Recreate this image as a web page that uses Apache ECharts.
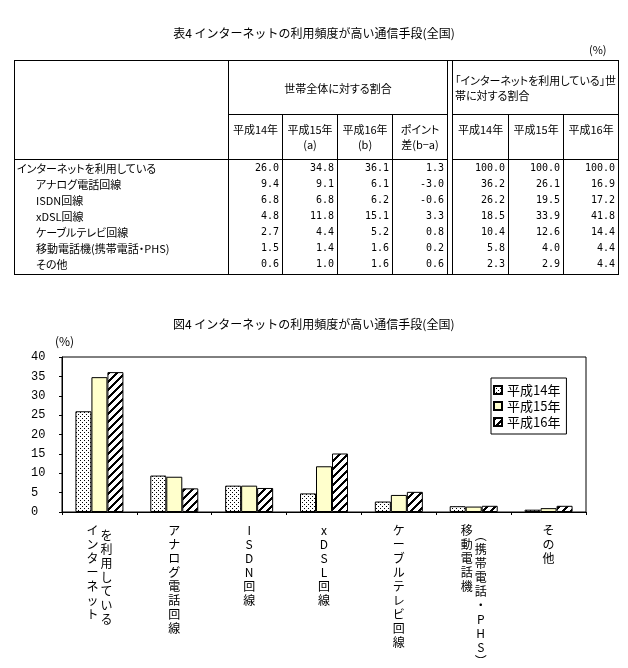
<!DOCTYPE html>
<html><head><meta charset="utf-8">
<script src="https://cdn.jsdelivr.net/npm/echarts@6/dist/echarts.min.js"></script>
<style>
html,body{margin:0;padding:0;background:#fff;}
body{width:628px;height:668px;position:relative;overflow:hidden;font-family:'Noto Sans CJK JP',sans-serif;color:#000;}
#chart{position:absolute;left:0;top:0;width:628px;height:668px;}
#ttl{position:absolute;left:0;width:628px;top:24px;text-align:center;font-size:12px;line-height:18px;z-index:2;}
#unit{position:absolute;left:589px;top:42px;font-size:11px;line-height:14px;z-index:2;}
#tbl{position:absolute;left:14px;top:60px;border-collapse:collapse;table-layout:fixed;width:604px;font-size:11px;z-index:2;border:1px solid #000;font-feature-settings:"palt";}
#tbl td{border-left:1px solid #000;border-right:1px solid #000;padding:0;overflow:hidden;white-space:nowrap;}
#tbl td.hb{border-bottom:1px solid #000;}
#tbl td.h1{text-align:center;vertical-align:middle;}
#tbl td.h2{text-align:left;vertical-align:middle;white-space:normal;line-height:15px;padding-left:2px;}
#tbl td.sh{text-align:center;vertical-align:top;padding-top:7px;line-height:15px;}
#tbl td.lab{padding-left:2px;line-height:16px;}
#tbl td.lab.ind{padding-left:21px;}
#tbl td.num{text-align:right;padding-right:3px;font-family:'DejaVu Sans Mono',monospace;font-size:10px;line-height:16px;}
</style></head>
<body>
<div id="chart"></div>
<div id="ttl"></div>
<div id="unit">(%)</div>
<table id="tbl">
<colgroup><col style="width:214px"><col style="width:54px"><col style="width:55px"><col style="width:55px"><col style="width:55px"><col style="width:5px"><col style="width:56px"><col style="width:55px"><col style="width:55px"></colgroup>
<tbody id="tb"></tbody>
</table>
<script>
// ---- data ----
const tableTitle = '表4 インターネットの利用頻度が高い通信手段(全国)';
const chartTitle = '図4 インターネットの利用頻度が高い通信手段(全国)';
const categories = ['インターネットを利用している','アナログ電話回線','ISDN回線','xDSL回線','ケーブルテレビ回線','移動電話機(携帯電話・PHS)','その他'];
const indentRows = [false,true,true,true,true,true,true];
const years = ['平成14年','平成15年','平成16年'];
const groupAll = '世帯全体に対する割合';
const groupUsers = '「インターネットを利用している」世帯に対する割合';
const subHeadAll = ['平成14年','平成15年<br>(a)','平成16年<br>(b)','ポイント<br>差(b−a)'];
const subHeadUsers = ['平成14年','平成15年','平成16年'];
const h14 = [26.0, 9.4, 6.8, 4.8, 2.7, 1.5, 0.6];
const h15 = [34.8, 9.1, 6.8, 11.8, 4.4, 1.4, 1.0];
const h16 = [36.1, 6.1, 6.2, 15.1, 5.2, 1.6, 1.6];
const pointDiff = [1.3, -3.0, -0.6, 3.3, 0.8, 0.2, 0.6];
const users14 = [100.0, 36.2, 26.2, 18.5, 10.4, 5.8, 2.3];
const users15 = [100.0, 26.1, 19.5, 33.9, 12.6, 4.0, 2.9];
const users16 = [100.0, 16.9, 17.2, 41.8, 14.4, 4.4, 4.4];
// chart tick labels (stacked vertically, two columns where wrapped)
const tickMain = ['インターネット','アナログ電話回線','ISDN回線','xDSL回線','ケーブルテレビ回線','移動電話機','その他'];
const tickSub  = ['を利用している','','','','','︵携帯電話・PHS︶',''];
const yTicks = {min:0, max:40, interval:5};

// ---- table ----
document.getElementById('ttl').textContent = tableTitle;
const tb = document.getElementById('tb');
let html = '';
html += '<tr style="height:54px"><td rowspan="2" class="hb"></td><td colspan="4" class="h1 hb">'+groupAll+'</td>'
      + '<td rowspan="'+(2+categories.length)+'"></td><td colspan="3" class="h2 hb">'+groupUsers+'</td></tr>';
html += '<tr style="height:45px">' + subHeadAll.map(s=>'<td class="sh hb">'+s+'</td>').join('')
      + subHeadUsers.map(s=>'<td class="sh hb">'+s+'</td>').join('') + '</tr>';
const f = v => v.toFixed(1);
categories.forEach((c,i)=>{
  const h = (i===categories.length-1)?18:16;
  html += '<tr style="height:'+h+'px;vertical-align:top"><td class="lab'+(indentRows[i]?' ind':'')+'">'+c+'</td>'
    + [h14[i],h15[i],h16[i],pointDiff[i]].map(v=>'<td class="num">'+f(v)+'</td>').join('')
    + [users14[i],users15[i],users16[i]].map(v=>'<td class="num">'+f(v)+'</td>').join('') + '</tr>';
});
tb.innerHTML = html;

// ---- patterns ----
function makeStipple(){const c=document.createElement('canvas');c.width=4;c.height=4;const x=c.getContext('2d');x.fillStyle='#fff';x.fillRect(0,0,4,4);x.fillStyle='#000';x.fillRect(0,0,1,1);x.fillRect(2,2,1,1);return c;}
function makeHatch(){const c=document.createElement('canvas');c.width=8;c.height=8;const x=c.getContext('2d');x.fillStyle='#fff';x.fillRect(0,0,8,8);x.fillStyle='#000';for(let i=0;i<8;i++)for(let j=0;j<8;j++){if(((i+j)%8)<3)x.fillRect(i,j,1,1);}return c;}
const fills = [{image:makeStipple(),repeat:'repeat'}, '#FFFFCC', {image:makeHatch(),repeat:'repeat'}];
const seriesData = [h14,h15,h16];

const stack = s => s.split('').join('\n');
const jp = "'Noto Sans CJK JP', sans-serif";
const chart = echarts.init(document.getElementById('chart'), null, {renderer:'canvas'});
chart.setOption({
  animation:false,
  textStyle:{fontFamily:jp, color:'#000'},
  title:{text:chartTitle, left:173, top:318, padding:0, textStyle:{fontSize:12, fontWeight:'normal', color:'#000', fontFamily:jp}},
  legend:{data:years, orient:'vertical', left:491, top:378, itemWidth:8, itemHeight:8, itemGap:2, selectedMode:false,
    borderColor:'#000', borderWidth:1, backgroundColor:'#fff', padding:[5,6,5,2], icon:'rect',
    textStyle:{fontSize:13, lineHeight:14, color:'#000', fontFamily:jp}},
  grid:{left:62, right:42, top:357, bottom:147, show:true, borderColor:'#000', borderWidth:1, containLabel:false},
  xAxis:[
    {type:'category', data:categories, axisLine:{lineStyle:{color:'#000', width:1}},
     axisTick:{show:true, length:3, alignWithLabel:false, lineStyle:{color:'#000'}},
     axisLabel:{interval:0, margin:11, color:'#000', fontSize:12, lineHeight:14, fontFamily:jp,
       formatter:(v,i)=> tickSub[i] ? '{l|'+stack(tickMain[i])+'}' : stack(tickMain[i]),
       rich:{l:{fontSize:12, lineHeight:14, padding:[0,14,0,0], fontFamily:jp, color:'#000'}}}},
    {type:'category', data:categories, position:'bottom', axisLine:{show:false}, axisTick:{show:false},
     axisLabel:{interval:0, margin:16, color:'#000', fontSize:12, lineHeight:14, fontFamily:jp,
       formatter:(v,i)=> tickSub[i] ? '{r|'+stack(tickSub[i])+'}' : '',
       rich:{r:{fontSize:12, lineHeight:14, padding:[0,0,0,14], fontFamily:jp, color:'#000'}}}}
  ],
  yAxis:{type:'value', min:yTicks.min, max:yTicks.max, interval:yTicks.interval,
    axisLine:{show:true, lineStyle:{color:'#000'}}, axisTick:{show:true, length:3, lineStyle:{color:'#000'}},
    splitLine:{show:false},
    axisLabel:{align:'left', margin:31, color:'#000', fontSize:12, fontFamily:"'Liberation Mono', monospace"},
    name:'(%)', nameLocation:'end', nameGap:10, nameTextStyle:{align:'center', fontSize:12, color:'#000', padding:[0,0,0,5], fontFamily:jp}},
  series: years.map((y,k)=>({name:y, type:'bar', xAxisIndex:0, data:seriesData[k], barWidth:16, barGap:'0%',
    itemStyle:{color:fills[k], borderColor:'#000', borderWidth:1}}))
});
</script>
</body></html>
